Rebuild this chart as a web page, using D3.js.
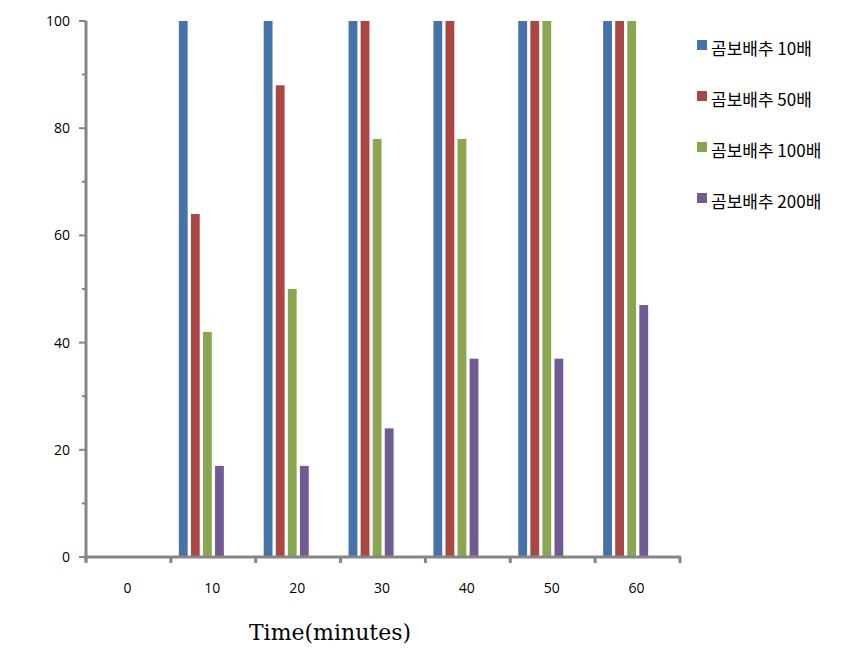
<!DOCTYPE html>
<html>
<head>
<meta charset="utf-8">
<script src="https://cdnjs.cloudflare.com/ajax/libs/d3/7.8.5/d3.min.js"></script>
<style>
  body { margin: 0; background: #fff; }
</style>
</head>
<body>
<svg id="chart"></svg>
<script>
var times = ["0", "10", "20", "30", "40", "50", "60"];
var seriesNames = ["곰보배추 10배", "곰보배추 50배", "곰보배추 100배", "곰보배추 200배"];
var s10 = [0, 100, 100, 100, 100, 100, 100];
var s50 = [0, 64, 88, 100, 100, 100, 100];
var s100 = [0, 42, 50, 78, 78, 100, 100];
var s200 = [0, 17, 17, 24, 37, 37, 47];
var yTicks = [0, 20, 40, 60, 80, 100];
var colors = ["#4672aa", "#aa4744", "#8ba650", "#725a92"];

var allSeries = [s10, s50, s100, s200];

var width = 860, height = 653;
var svg = d3.select("#chart")
    .attr("width", width)
    .attr("height", height);

var x = d3.scaleBand().domain(times).range([86, 680]);
// bars sit at the left part of each group (as in the original)
var xs = d3.scaleBand().domain(seriesNames).range([8, 53]).paddingInner(0.27);
var y = d3.scaleLinear().domain([0, 100]).range([557, 21]);

// bars
seriesNames.forEach(function (name, si) {
    svg.append("g")
        .selectAll("rect")
        .data(allSeries[si])
        .enter().append("rect")
        .attr("x", (d, i) => x(times[i]) + xs(name))
        .attr("y", d => y(d))
        .attr("width", xs.bandwidth())
        .attr("height", d => y(0) - y(d))
        .attr("fill", colors[si]);
});

// y axis
var axisColor = "#868686";
svg.append("line")
    .attr("x1", 86).attr("x2", 86)
    .attr("y1", y(100)).attr("y2", y(0) + 4)
    .attr("stroke", axisColor).attr("stroke-width", 3);

var minor = d3.range(10, 100, 20);
svg.selectAll(".minor")
    .data(minor)
    .enter().append("line")
    .attr("x1", 82).attr("x2", 86)
    .attr("y1", d => y(d)).attr("y2", d => y(d))
    .attr("stroke", axisColor).attr("stroke-width", 2);

svg.selectAll(".major")
    .data(yTicks)
    .enter().append("line")
    .attr("x1", 79).attr("x2", 86)
    .attr("y1", d => y(d)).attr("y2", d => y(d))
    .attr("stroke", axisColor).attr("stroke-width", 2);

svg.selectAll(".ylab")
    .data(yTicks)
    .enter().append("text")
    .attr("x", 70)
    .attr("y", d => y(d))
    .attr("dy", "0.35em")
    .attr("text-anchor", "end")
    .attr("font-family", "'Open Sans', 'Noto Sans', sans-serif")
    .attr("font-size", 14)
    .attr("fill", "#000")
    .text(d => d);

// x axis
svg.append("line")
    .attr("x1", 84).attr("x2", 681)
    .attr("y1", y(0)).attr("y2", y(0))
    .attr("stroke", axisColor).attr("stroke-width", 3);

var xEdges = times.map(t => x(t)).concat([x.range()[1]]);
svg.selectAll(".xtick")
    .data(xEdges)
    .enter().append("line")
    .attr("x1", d => d).attr("x2", d => d)
    .attr("y1", y(0)).attr("y2", y(0) + 6)
    .attr("stroke", axisColor).attr("stroke-width", 3);

svg.selectAll(".xlab")
    .data(times)
    .enter().append("text")
    .attr("x", d => x(d) + x.bandwidth() / 2 - 1)
    .attr("y", 588)
    .attr("dy", "0.35em")
    .attr("text-anchor", "middle")
    .attr("font-family", "'Open Sans', 'Noto Sans', sans-serif")
    .attr("font-size", 14)
    .attr("fill", "#000")
    .text(d => d);

svg.append("text")
    .attr("x", 330)
    .attr("y", 640)
    .attr("text-anchor", "middle")
    .attr("font-family", "'DejaVu Serif', serif")
    .attr("font-size", 22)
    .attr("fill", "#000")
    .text("Time(minutes)");

// legend
var legend = svg.append("g");
seriesNames.forEach(function (name, i) {
    var top = 40 + i * 51;
    legend.append("rect")
        .attr("x", 697).attr("y", top)
        .attr("width", 10).attr("height", 10)
        .attr("fill", colors[i]);
    legend.append("text")
        .attr("x", 711).attr("y", top + 15)
        .attr("font-family", "'Noto Sans CJK KR', sans-serif")
        .attr("font-size", 17)
        .attr("fill", "#000")
        .text(name);
});
</script>
</body>
</html>
